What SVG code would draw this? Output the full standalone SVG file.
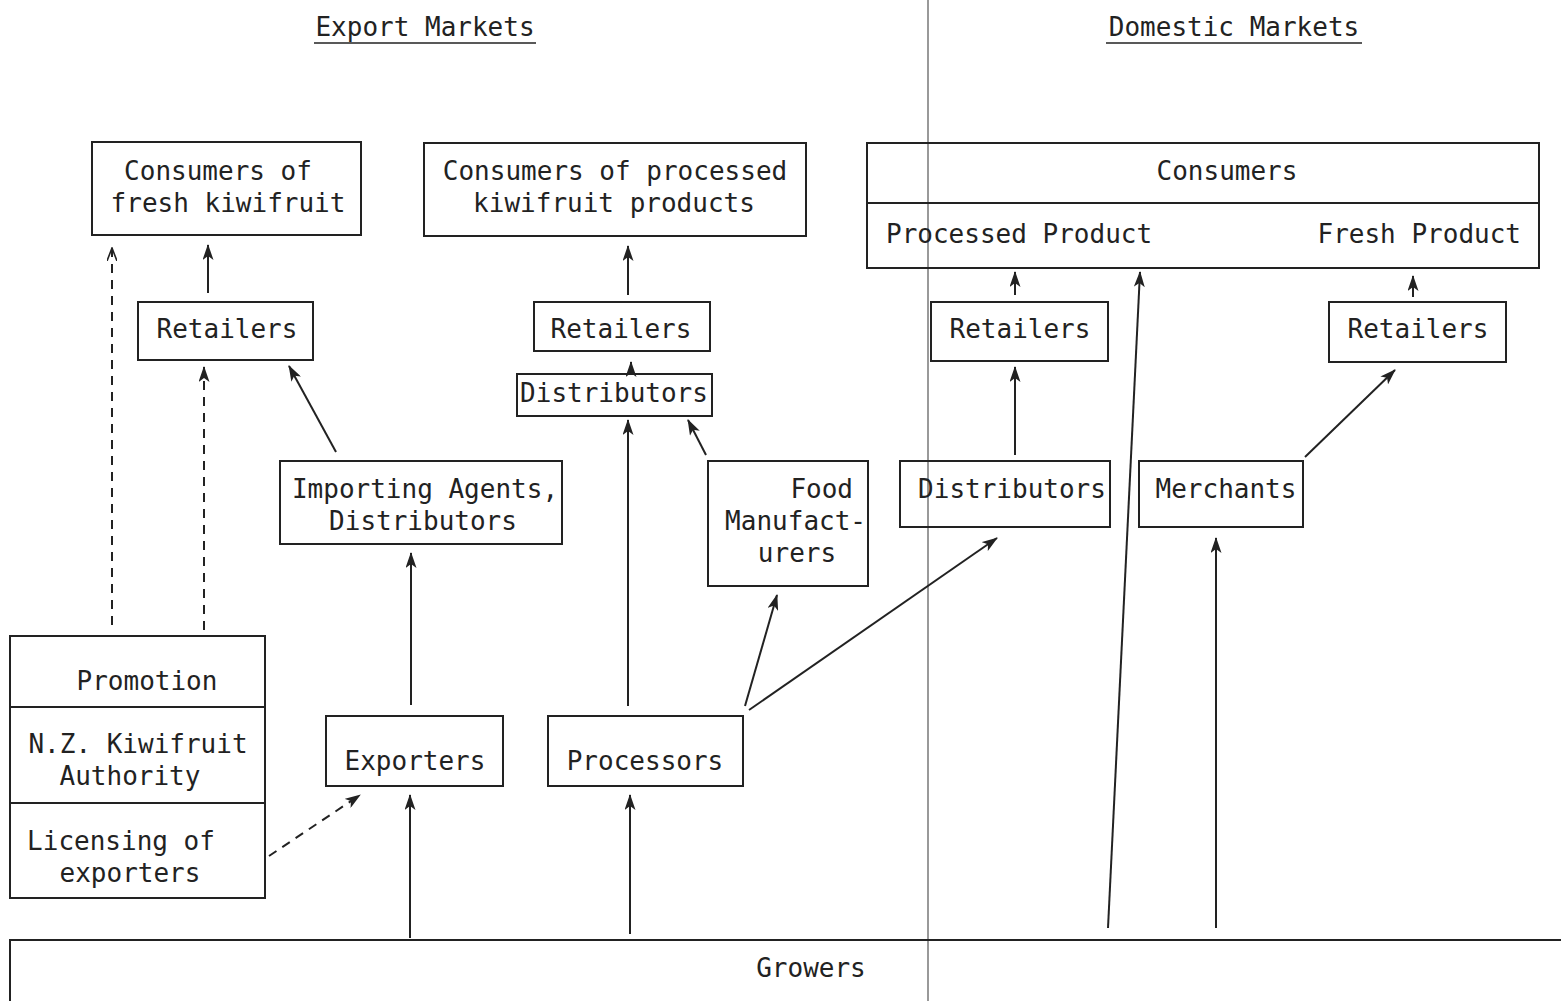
<svg xmlns="http://www.w3.org/2000/svg" width="1561" height="1001" viewBox="0 0 1561 1001">
<defs>
<marker id="ah" viewBox="0 0 16 11" refX="15" refY="5.5" markerWidth="16" markerHeight="11" markerUnits="userSpaceOnUse" orient="auto">
<path d="M0,0 L16,5.5 L0,11 L4,5.5 Z" fill="#222"/>
</marker>
<marker id="ao" viewBox="0 0 14 10" refX="13" refY="5" markerWidth="14" markerHeight="10" markerUnits="userSpaceOnUse" orient="auto">
<path d="M0,0 L13,5 L0,10" fill="none" stroke="#222" stroke-width="1.6"/>
</marker>
</defs>
<style>
text{font-family:"DejaVu Sans Mono","Liberation Mono",monospace;font-size:26px;fill:#222}
.box{fill:none;stroke:#222;stroke-width:2}
.c{text-anchor:middle}
.e{text-anchor:end}
.ln{stroke:#222;stroke-width:2;fill:none;marker-end:url(#ah)}
.dl{stroke:#222;stroke-width:2;fill:none;stroke-dasharray:9,7;marker-end:url(#ah)}
</style>
<rect width="1561" height="1001" fill="#fff"/>
<g id="headings">
<text x="425" y="36" class="c">Export Markets</text>
<line x1="314" y1="43" x2="536" y2="43" stroke="#222" stroke-width="1.5"/>
<text x="1234" y="36" class="c">Domestic Markets</text>
<line x1="1106" y1="43" x2="1362" y2="43" stroke="#222" stroke-width="1.5"/>
<line x1="928" y1="0" x2="928" y2="1001" stroke="#777" stroke-width="1.5"/>
</g>
<g id="consumers-fresh"><rect class="box" x="92" y="142" width="269" height="93"/><text x="218" y="180" class="c">Consumers of</text><text x="228" y="212" class="c">fresh kiwifruit</text></g>
<g id="retailers-export-fresh"><rect class="box" x="138" y="302" width="175" height="58"/><text x="227" y="338" class="c">Retailers</text></g>
<g id="consumers-processed"><rect class="box" x="424" y="143" width="382" height="93"/><text x="615" y="180" class="c">Consumers of processed</text><text x="614" y="212" class="c">kiwifruit products</text></g>
<g id="retailers-export-processed"><rect class="box" x="534" y="302" width="176" height="49"/><text x="621" y="338" class="c">Retailers</text></g>
<g id="distributors-export"><rect class="box" x="517" y="374" width="195" height="42"/><text x="614" y="402" class="c">Distributors</text></g>
<g id="importing-agents"><rect class="box" x="280" y="461" width="282" height="83"/><text x="425" y="498" class="c">Importing Agents,</text><text x="423" y="530" class="c">Distributors</text></g>
<g id="food-manufacturers"><rect class="box" x="708" y="461" width="160" height="125"/><text x="853" y="498" class="e">Food</text><text x="866" y="530" class="e">Manufact-</text><text x="797" y="562" class="c">urers</text></g>
<g id="consumers-domestic"><rect class="box" x="867" y="143" width="672" height="125"/><line x1="867" y1="203" x2="1539" y2="203" stroke="#222" stroke-width="2"/><text x="1227" y="180" class="c">Consumers</text><text x="886" y="243">Processed Product</text><text x="1521" y="243" class="e">Fresh Product</text></g>
<g id="retailers-domestic-processed"><rect class="box" x="931" y="302" width="177" height="59"/><text x="1020" y="338" class="c">Retailers</text></g>
<g id="retailers-domestic-fresh"><rect class="box" x="1329" y="302" width="177" height="60"/><text x="1418" y="338" class="c">Retailers</text></g>
<g id="distributors-domestic"><rect class="box" x="900" y="461" width="210" height="66"/><text x="1012" y="498" class="c">Distributors</text></g>
<g id="merchants"><rect class="box" x="1139" y="461" width="164" height="66"/><text x="1226" y="498" class="c">Merchants</text></g>
<g id="nzka"><rect class="box" x="10" y="636" width="255" height="262"/><line x1="10" y1="707" x2="265" y2="707" stroke="#222" stroke-width="2"/><line x1="10" y1="803" x2="265" y2="803" stroke="#222" stroke-width="2"/><text x="147" y="690" class="c">Promotion</text><text x="138" y="753" class="c">N.Z. Kiwifruit</text><text x="130" y="785" class="c">Authority</text><text x="121" y="850" class="c">Licensing of</text><text x="130" y="882" class="c">exporters</text></g>
<g id="exporters"><rect class="box" x="326" y="716" width="177" height="70"/><text x="415" y="770" class="c">Exporters</text></g>
<g id="processors"><rect class="box" x="548" y="716" width="195" height="70"/><text x="645" y="770" class="c">Processors</text></g>
<g id="growers"><path class="box" d="M10,1001 L10,940 L1561,940"/><text x="811" y="977" class="c">Growers</text></g>
<g id="connectors">
<line class="dl" x1="112" y1="625" x2="112" y2="248" style="marker-end:url(#ao)"/>
<line class="dl" x1="204" y1="630" x2="204" y2="367"/>
<line class="ln" x1="208" y1="293" x2="208" y2="245"/>
<line class="ln" x1="336" y1="452" x2="289" y2="366"/>
<line class="ln" x1="411" y1="705" x2="411" y2="553"/>
<line class="ln" x1="628" y1="295" x2="628" y2="246"/>
<line class="ln" x1="631" y1="374" x2="631" y2="362"/>
<line class="ln" x1="628" y1="706" x2="628" y2="420"/>
<line class="ln" x1="706" y1="455" x2="688" y2="420"/>
<line class="ln" x1="745" y1="706" x2="777" y2="595"/>
<line class="ln" x1="749" y1="710" x2="997" y2="538"/>
<line class="dl" x1="269" y1="856" x2="360" y2="795"/>
<line class="ln" x1="410" y1="938" x2="410" y2="795"/>
<line class="ln" x1="630" y1="934" x2="630" y2="795"/>
<line class="ln" x1="1108" y1="928" x2="1140" y2="272"/>
<line class="ln" x1="1216" y1="928" x2="1216" y2="538"/>
<line class="ln" x1="1015" y1="455" x2="1015" y2="367"/>
<line class="ln" x1="1015" y1="295" x2="1015" y2="272"/>
<line class="ln" x1="1413" y1="297" x2="1413" y2="276"/>
<line class="ln" x1="1305" y1="457" x2="1395" y2="370"/>
</g>
</svg>
